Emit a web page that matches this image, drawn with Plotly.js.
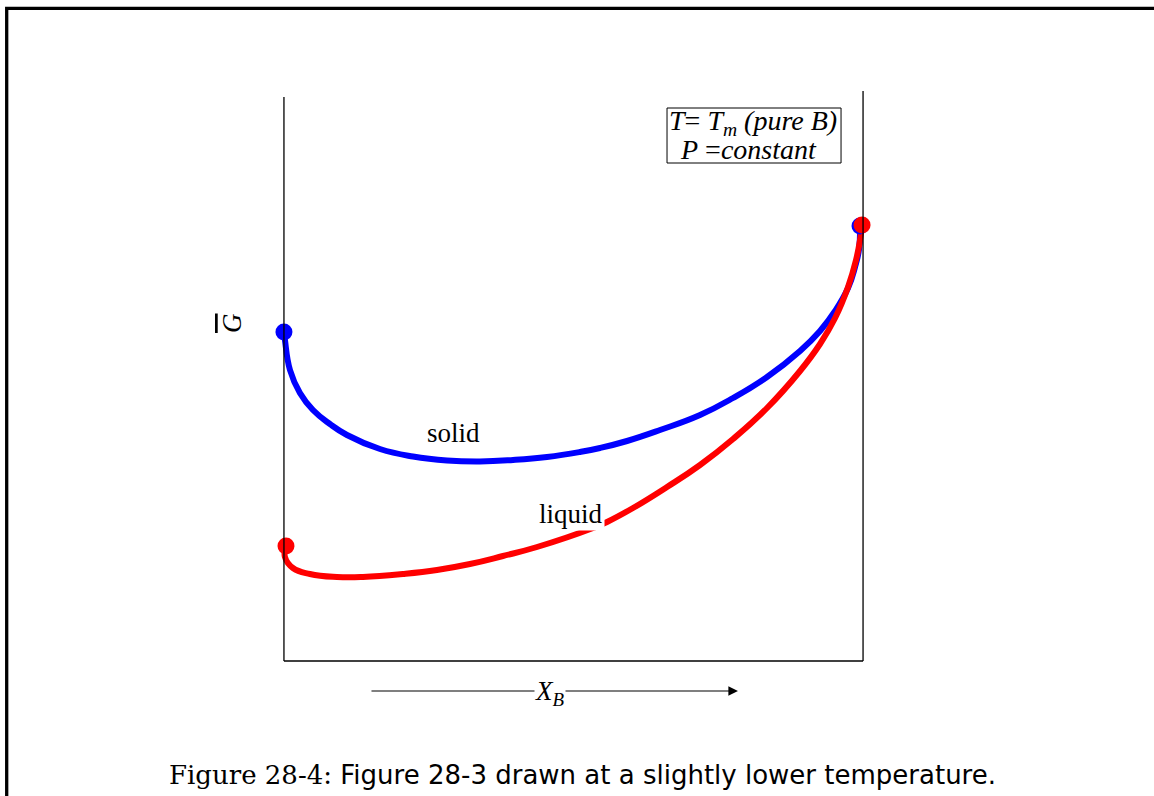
<!DOCTYPE html>
<html>
<head>
<meta charset="utf-8">
<script src="https://cdn.plot.ly/plotly-3.0.1.min.js"></script>
<style>html,body{margin:0;padding:0;background:#fff;}#chart{width:1154px;height:796px;}</style>
</head>
<body>
<div id="chart"></div>
<script>
// Solid phase molar Gibbs energy curve (X_B, G)
const solidX = [0.000, 0.0017, 0.0104, 0.0276, 0.0501, 0.0794, 0.1088, 0.1658, 0.2228, 0.2815, 0.3385, 0.3955, 0.4542, 0.5112, 0.5458, 0.5924, 0.6494, 0.7185, 0.7755, 0.8342, 0.8912, 0.9257, 0.9517, 0.9741, 0.9862, 0.9931, 0.9948];
const solidG = [3.29, 3.21, 2.91, 2.68, 2.51, 2.37, 2.26, 2.12, 2.045, 2.005, 1.995, 2.01, 2.04, 2.09, 2.13, 2.20, 2.31, 2.46, 2.63, 2.84, 3.10, 3.30, 3.50, 3.73, 3.94, 4.12, 4.35];
// Liquid phase curve
const liquidX = [0.0035, 0.0017, 0.0155, 0.0449, 0.0915, 0.1364, 0.2055, 0.2642, 0.3212, 0.3782, 0.4370, 0.5337, 0.5579, 0.6028, 0.6615, 0.7185, 0.7755, 0.8342, 0.8912, 0.9257, 0.9517, 0.9741, 0.9879, 0.9948, 0.9983];
const liquidG = [1.15, 1.04, 0.93, 0.87, 0.84, 0.84, 0.87, 0.91, 0.97, 1.05, 1.14, 1.33, 1.39, 1.53, 1.74, 1.96, 2.22, 2.53, 2.90, 3.17, 3.43, 3.74, 4.01, 4.21, 4.36];
// Curve labels
const labelText = ['solid', 'liquid'];
const labelX = [0.2936, 0.4957];
const labelG = [2.28, 1.47];

const blue = '#0000ff', red = '#ff0000';
const serif = 'Liberation Serif, Times New Roman, serif';

const ends = (a) => [a[0], a[a.length - 1]];

const traces = [
  {x: solidX, y: solidG, mode: 'lines', line: {color: blue, width: 6, shape: 'spline', smoothing: 1.3}, hoverinfo: 'skip'},
  {x: liquidX, y: liquidG, mode: 'lines', line: {color: red, width: 6, shape: 'spline', smoothing: 1.3}, hoverinfo: 'skip'},
  {x: ends(solidX), y: ends(solidG), mode: 'markers', marker: {color: blue, size: 17}, cliponaxis: false, hoverinfo: 'skip'},
  {x: ends(liquidX), y: ends(liquidG), mode: 'markers', marker: {color: red, size: 17}, cliponaxis: false, hoverinfo: 'skip'}
];

const annotations = [
  // box text
  {xref: 'x', yref: 'y', x: 0.81, y: 5.385, xanchor: 'center', yanchor: 'middle', text: '<i>T</i>= <i>T<sub>m</sub> (pure B)</i>', showarrow: false, font: {family: serif, size: 28, color: '#000'}},
  {xref: 'x', yref: 'y', x: 0.803, y: 5.12, xanchor: 'center', yanchor: 'middle', text: '<i>P</i> =<i>constant</i>', showarrow: false, font: {family: serif, size: 28, color: '#000'}},
  // curve labels
  {xref: 'x', yref: 'y', x: labelX[0], y: labelG[0], text: labelText[0], showarrow: false, font: {family: serif, size: 27, color: '#000'}},
  {xref: 'x', yref: 'y', x: labelX[1], y: labelG[1], text: labelText[1], showarrow: false, bgcolor: '#fff', borderpad: 1, font: {family: serif, size: 27, color: '#000'}},
  // G-bar label
  {xref: 'paper', yref: 'paper', x: -0.0361, y: 0.5869, xanchor: 'center', yanchor: 'middle', text: '<i><span style="text-decoration:overline">G</span></i>', textangle: -90, showarrow: false, font: {family: serif, size: 27, color: '#000'}},
  // X_B arrow
  {xref: 'paper', yref: 'paper', x: 0.7582, y: -0.0164, ax: -368, ay: 0, text: '', showarrow: true, arrowhead: 2, arrowsize: 1.6, arrowwidth: 1.2, arrowcolor: '#000', standoff: 0},
  {xref: 'paper', yref: 'paper', x: 0.4631, y: -0.0197, xanchor: 'center', yanchor: 'middle', text: '<i>X<sub>B</sub></i>', showarrow: false, bgcolor: '#fff', borderpad: 0, font: {family: serif, size: 27, color: '#000'}},
  // caption
  {xref: 'paper', yref: 'paper', x: 0.5149, y: -0.1541, xanchor: 'center', yanchor: 'middle', text: '<span style="font-family:DejaVu Serif">Figure 28-4:</span> Figure 28-3 drawn at a slightly lower temperature.', showarrow: false, font: {family: 'DejaVu Sans, sans-serif', size: 26, color: '#000'}}
];

const shapes = [
  // page frame
  {type: 'path', xref: 'paper', yref: 'paper', path: 'M 1.43 1.1028 L -0.3898 1.1028 L -0.3898 -0.2', line: {color: '#000', width: 3.3}},
  // axes frame
  {type: 'line', xref: 'x', yref: 'y', x0: 0, x1: 0, y0: 0, y1: 5.64, line: {color: '#000', width: 1.3}},
  {type: 'line', xref: 'x', yref: 'y', x0: 1, x1: 1, y0: 0, y1: 5.70, line: {color: '#000', width: 1.3}},
  {type: 'line', xref: 'x', yref: 'y', x0: 0, x1: 1, y0: 0, y1: 0, line: {color: '#000', width: 1.3}},
  // legend box
  {type: 'rect', xref: 'x', yref: 'y', x0: 0.6615, x1: 0.9620, y0: 4.98, y1: 5.53, line: {color: '#000', width: 1}}
];

const layout = {
  width: 1154, height: 796,
  margin: {l: 255, r: 262, t: 71, b: 115, pad: 0},
  paper_bgcolor: '#fff', plot_bgcolor: '#fff',
  showlegend: false,
  xaxis: {range: [-0.05, 1.05], visible: false, fixedrange: true},
  yaxis: {range: [-0.2, 5.9], visible: false, fixedrange: true},
  shapes: shapes,
  annotations: annotations
};

Plotly.newPlot('chart', traces, layout, {displayModeBar: false, staticPlot: true});
</script>
</body>
</html>
